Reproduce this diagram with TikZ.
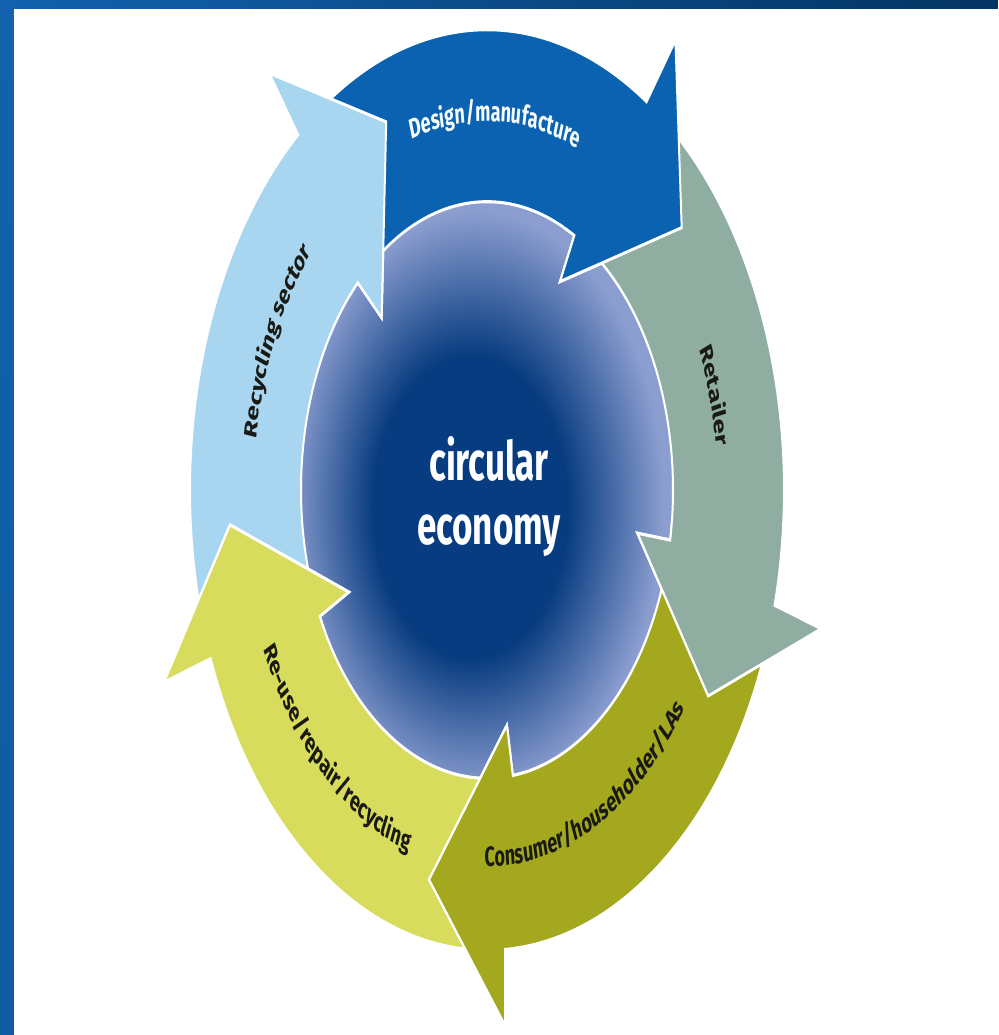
\documentclass[tikz,border=0pt]{standalone}
\usepackage{fontspec}
\setmainfont{Fira Sans}
\usetikzlibrary{decorations.text}

\definecolor{recyblue}{RGB}{168,214,240}
\definecolor{designblue}{RGB}{10,98,176}
\definecolor{retailgreen}{RGB}{143,173,160}
\definecolor{consolive}{RGB}{163,168,30}
\definecolor{reuseyellow}{RGB}{216,220,92}
\definecolor{coredark}{RGB}{8,60,128}
\definecolor{corelight}{RGB}{140,158,208}
\definecolor{framedark}{RGB}{4,52,98}
\definecolor{framelight}{RGB}{18,98,174}
\definecolor{labeldark}{RGB}{26,26,20}

\pgfdeclareradialshading{core}{\pgfpoint{-3bp}{-2bp}}{color(0bp)=(coredark); color(13bp)=(coredark); color(25bp)=(corelight); color(50bp)=(corelight)}

\newcommand{\labelfont}{\fontsize{9}{11}\selectfont\bfseries}

\tikzset{
  arrowpart/.style={draw=white, line width=1pt, line join=miter},
  ringlabel/.style={decorate, decoration={text along path, text align=center, text color=#1}},
  corelabel/.style={font=\fontsize{17.5}{20}\selectfont\bfseries, text=white, anchor=base, inner sep=0pt}
}

\begin{document}
\begin{tikzpicture}[x=0.5pt, y=0.5pt]
\useasboundingbox (-487,-545) rectangle (511,490);
\fill[white] (-487,-545) rectangle (511,490);
\shade[top color=framelight, bottom color=framelight!85!framedark] (-487,-545) rectangle (-473,490);
\shade[left color=framelight, right color=framedark] (-487,482) rectangle (511,490);

\begin{scope}[transform canvas={yscale=1.55}]
\shade[shading=core] (0,0) circle[radius=188];
% the five arrows, head base angle / colour
\foreach \b/\col in {129.5/recyblue, 57.5/designblue, -14.5/retailgreen, -86.5/consolive, -158.5/reuseyellow} {
  \filldraw[arrowpart, fill=\col] ({\b+68}:297) arc[start angle=\b+68, end angle=\b, radius=297]
    -- ({\b-0.5}:346) -- ({\b-16.5}:258) -- ({\b+4}:153) -- ({\b+4.5}:186)
    arc[start angle=\b+4.5, end angle=\b+68, radius=186];
}
% heads once more, over the tails
\foreach \b/\col in {129.5/recyblue, 57.5/designblue, -14.5/retailgreen, -86.5/consolive, -158.5/reuseyellow} {
  \filldraw[arrowpart, fill=\col] ({\b+8}:297) arc[start angle=\b+8, end angle=\b, radius=297]
    -- ({\b-0.5}:346) -- ({\b-16.5}:258) -- ({\b+4}:153) -- ({\b+4.5}:186)
    arc[start angle=\b+4.5, end angle=\b+8, radius=186];
}

\path[ringlabel=white!90!recyblue, decoration={text={|\labelfont|Design/manufacture}}]
  (130:238) arc[start angle=130, end angle=46, radius=238];
\path[ringlabel=labeldark, decoration={text={|\labelfont|Retailer}}]
  (45:231) arc[start angle=45, end angle=-15, radius=231];
\path[ringlabel=labeldark, decoration={text={|\labelfont|Consumer/householder/LAs}}]
  (-103:243) arc[start angle=-103, end angle=-23, radius=243];
\path[ringlabel=labeldark, decoration={text={|\labelfont|Re-use/repair/recycling}}]
  (188:246) arc[start angle=188, end angle=268, radius=246];
\path[ringlabel=labeldark, decoration={text={|\labelfont|Recycling sector}}]
  (195:233) arc[start angle=195, end angle=116, radius=233];

\node[corelabel] (circ) at (2,6) {circular};
\node[corelabel] (econ) at (2,-35) {economy};
\end{scope}
\end{tikzpicture}
\end{document}
